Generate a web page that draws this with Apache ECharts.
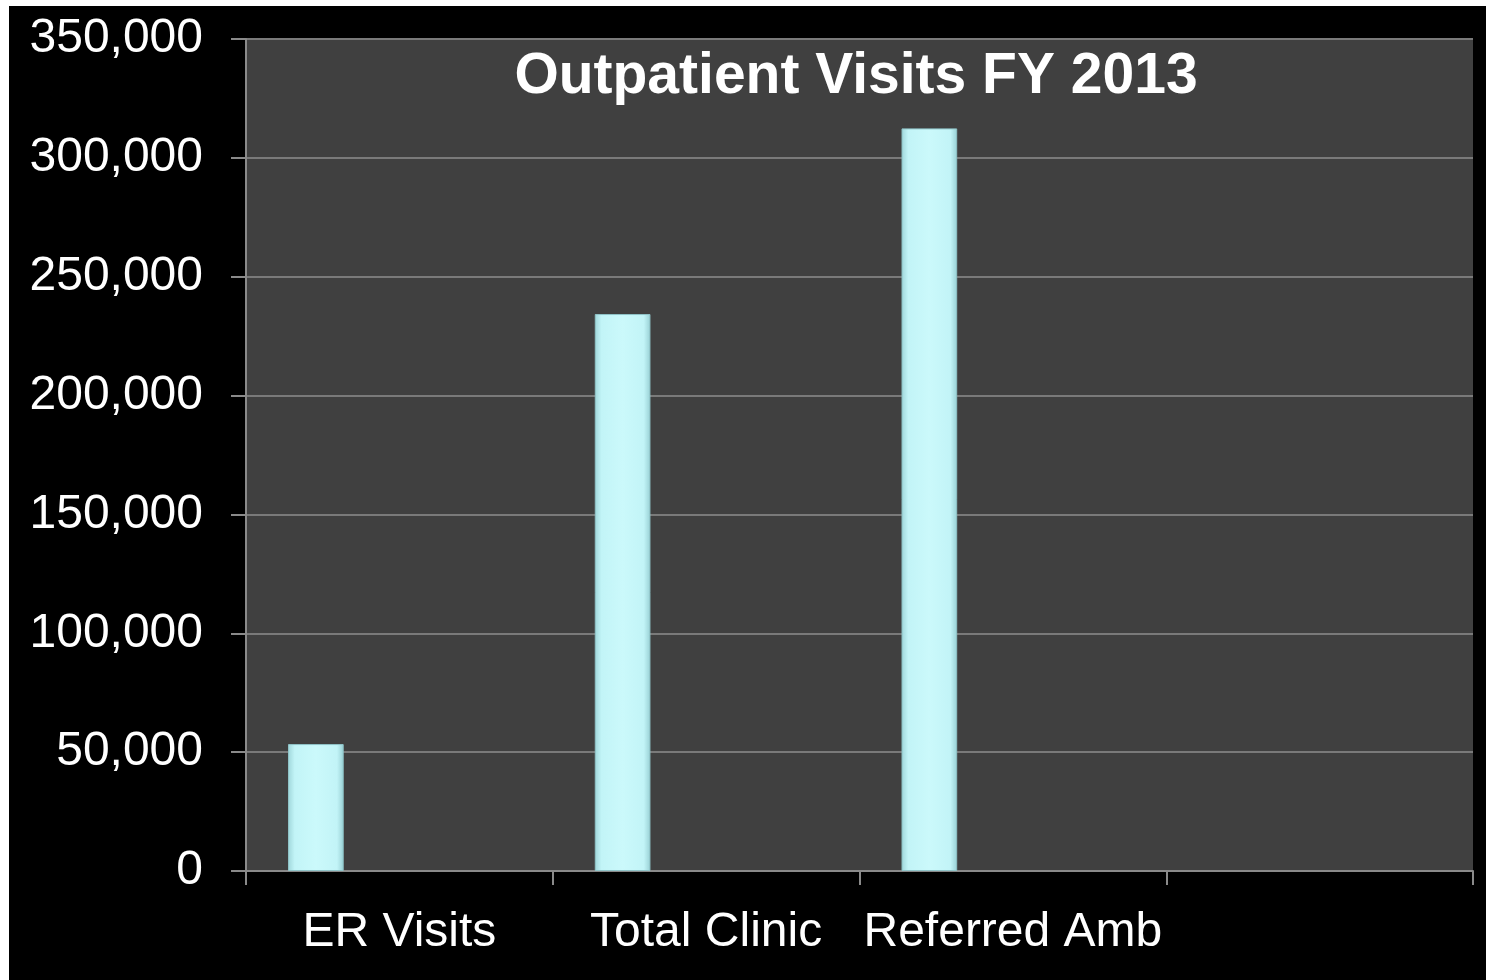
<!DOCTYPE html>
<html>
<head>
<meta charset="utf-8">
<script src="https://cdn.jsdelivr.net/npm/echarts@6/dist/echarts.min.js"></script>
<style>
  html, body { margin: 0; padding: 0; background: #ffffff; width: 1486px; height: 980px; overflow: hidden; }
  #chart { position: absolute; left: 9px; top: 6px; width: 1477px; height: 974px; background: #000000; }
</style>
</head>
<body>
<div id="chart"></div>
<script>
// Data
const categories = ['ER Visits', 'Total Clinic', 'Referred Amb', ''];
const visits = [53400, 234300, 312400, null];
const emptySeriesA = [];
const emptySeriesB = [];
const emptySeriesC = [];
const titleText = 'Outpatient Visits FY 2013';

const chart = echarts.init(document.getElementById('chart'), null, { renderer: 'canvas' });

const barColor = {
  type: 'linear', x: 0, y: 0, x2: 1, y2: 0,
  colorStops: [
    { offset: 0, color: '#9fd6da' },
    { offset: 0.12, color: '#c2f4f7' },
    { offset: 0.5, color: '#cbf9fb' },
    { offset: 0.88, color: '#c2f4f7' },
    { offset: 1, color: '#98d0d4' }
  ]
};

const font = '"Liberation Sans", Arial, sans-serif';

chart.setOption({
  backgroundColor: '#000000',
  animation: false,
  title: {
    text: titleText,
    left: 842,
    top: 38,
    textAlign: 'center',
    textStyle: { color: '#ffffff', fontSize: 57, fontWeight: 'bold', fontFamily: font }
  },
  grid: {
    left: 237, right: 13, top: 33, bottom: 109,
    show: true, backgroundColor: '#404040', borderWidth: 0, containLabel: false
  },
  xAxis: {
    type: 'category',
    data: categories,
    axisLine: { show: true, lineStyle: { color: '#8a8a8a', width: 2 } },
    axisTick: { show: true, length: 14, alignWithLabel: false, lineStyle: { color: '#8a8a8a', width: 2 } },
    axisLabel: { color: '#ffffff', fontSize: 48, fontFamily: font, margin: 38, interval: 0 },
    splitLine: { show: false }
  },
  yAxis: {
    type: 'value',
    min: 0, max: 350000, interval: 50000,
    axisLine: { show: true, lineStyle: { color: '#8a8a8a', width: 2 } },
    axisTick: { show: true, length: 15, lineStyle: { color: '#8a8a8a', width: 2 } },
    axisLabel: {
      color: '#ffffff', fontSize: 48, fontFamily: font, margin: 43,
      padding: [4, 0, 0, 0],
      formatter: function (v) { return v.toLocaleString('en-US'); }
    },
    splitLine: { show: true, lineStyle: { color: '#7a7a7a', width: 2 } }
  },
  series: [
    { type: 'bar', data: visits, barGap: '0%', barCategoryGap: '27.4%',
      itemStyle: { color: barColor, borderColor: '#8fc4c8', borderWidth: 1 } },
    { type: 'bar', data: emptySeriesA, barGap: '0%', barCategoryGap: '27.4%' },
    { type: 'bar', data: emptySeriesB, barGap: '0%', barCategoryGap: '27.4%' },
    { type: 'bar', data: emptySeriesC, barGap: '0%', barCategoryGap: '27.4%' }
  ]
});
</script>
</body>
</html>
